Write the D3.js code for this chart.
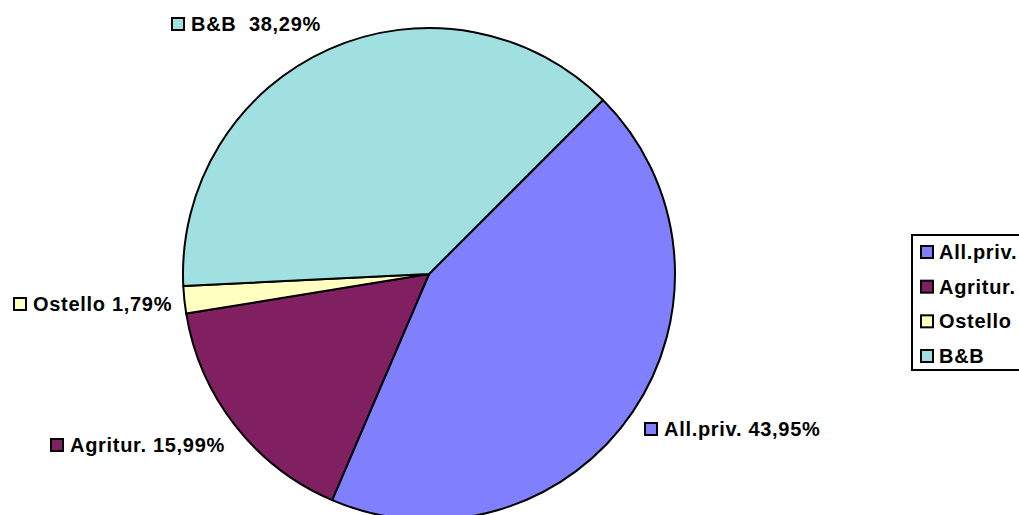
<!DOCTYPE html>
<html>
<head>
<meta charset="utf-8">
<script src="https://cdn.jsdelivr.net/npm/d3@7"></script>
<style>
  body { margin: 0; background: #fff; }
  svg text { font-family: "Liberation Sans", Arial, sans-serif; font-weight: bold; font-size: 20px; letter-spacing: 0.7px; fill: #000; white-space: pre; }
</style>
</head>
<body>
<div id="chart"></div>
<script>
// data
const categories = ["All.priv.", "Agritur.", "Ostello", "B&B"];
const values = [43.95, 15.99, 1.79, 38.29];
const labels = ["All.priv. 43,95%", "Agritur. 15,99%", "Ostello 1,79%", "B&B  38,29%"];
const colors = ["#8080FF", "#802060", "#FFFFC0", "#A0E0E0"];

const width = 1019, height = 515;
const cx = 429, cy = 274, radius = 246;

const svg = d3.select("#chart").append("svg")
    .attr("width", width)
    .attr("height", height);

// pie starts at 45 degrees (top right), clockwise
const pie = d3.pie()
    .sort(null)
    .startAngle(Math.PI / 4)
    .endAngle(Math.PI / 4 + 2 * Math.PI)
    .value(d => d);

const arc = d3.arc().innerRadius(0).outerRadius(radius);
const arcs = pie(values);

const g = svg.append("g").attr("transform", `translate(${cx},${cy})`);
g.selectAll("path")
    .data(arcs)
    .enter().append("path")
    .attr("d", arc)
    .style("fill", (d, i) => colors[i])
    .style("stroke", "#000")
    .style("stroke-width", 2)
    .style("stroke-linejoin", "round");

// marker square with black border
function marker(sel) {
    sel.append("rect")
        .attr("x", 1).attr("y", 1)
        .attr("width", 12).attr("height", 12)
        .style("fill", (d, i) => colors[i])
        .style("stroke", "#000")
        .style("stroke-width", 2);
}

// data labels (top-left of the label's marker square)
const labelPos = [[644, 422], [50, 438], [13, 297], [171, 17]];
const lab = svg.selectAll(".lab")
    .data(labels)
    .enter().append("g")
    .attr("class", "lab")
    .attr("transform", (d, i) => `translate(${labelPos[i][0]},${labelPos[i][1]})`);
marker(lab);
lab.append("text")
    .attr("x", 20).attr("y", 14)
    .attr("xml:space", "preserve")
    .text(d => d);

// legend
const legend = svg.append("g").attr("transform", "translate(911,234)");
legend.append("rect")
    .attr("x", 1).attr("y", 1)
    .attr("width", 130).attr("height", 135)
    .style("fill", "#fff")
    .style("stroke", "#000")
    .style("stroke-width", 2);
const ly = d3.scalePoint().domain(categories).range([11, 115]);
const li = legend.selectAll(".li")
    .data(categories)
    .enter().append("g")
    .attr("transform", d => `translate(9,${ly(d)})`);
marker(li);
li.append("text")
    .attr("x", 19).attr("y", 14)
    .text(d => d);
</script>
</body>
</html>
